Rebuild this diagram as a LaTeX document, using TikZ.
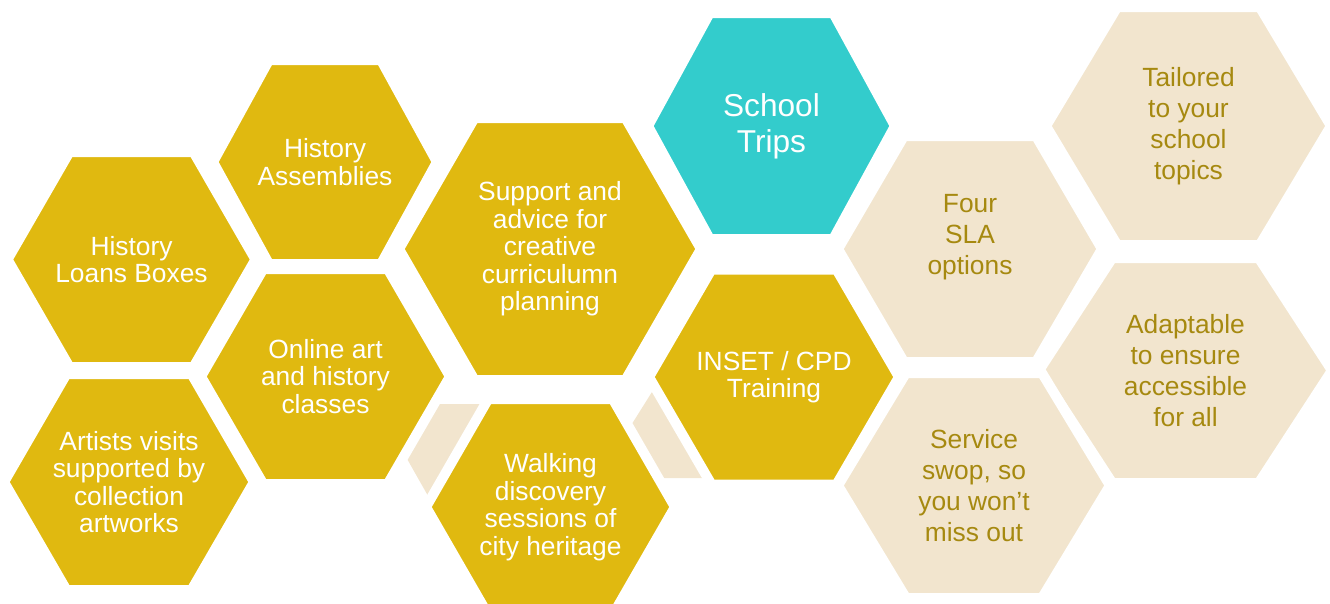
\documentclass[tikz,border=0pt]{standalone}
\usepackage{fontspec}
\setmainfont{Liberation Sans}
\usepackage{xcolor}
\definecolor{hexgold}{RGB}{224,185,16}
\definecolor{hexteal}{RGB}{51,204,204}
\definecolor{hexsand}{RGB}{242,229,206}
\definecolor{hexink}{RGB}{166,137,16}

% cell: name, centre x, centre y, half width, half height, fill, text style, text
\newcommand{\hexcell}[8]{%
  \filldraw[hexedge, fill=#6, shift={(#2,#3)}]
    ({-#4-6},0) -- ({-#4/2-3},{-#5-5}) -- ({#4/2+3},{-#5-5}) -- ({#4+6},0)
    -- ({#4/2+3},{#5+5}) -- ({-#4/2-3},{#5+5}) -- cycle;
  \node[#7] (#1) at (#2,#3) {#8};
}

\begin{document}
\begin{tikzpicture}[x=0.02cm, y=-0.02cm,
    hexedge/.style={draw=white, line width=0.2cm},
    goldtext/.style={text=white, align=center, font=\fontsize{15}{15.7}\selectfont},
    sandtext/.style={text=hexink, align=center, font=\fontsize{15}{17.6}\selectfont},
    tripstext/.style={text=white, align=center, font=\fontsize{18}{20.5}\selectfont}]
  \useasboundingbox (0,0) rectangle (1330,603);
  % half hidden sand cells
  \fill[hexsand] (406,457) -- (436,404) -- (496,404) -- (526,457) -- (496,510) -- (436,510) -- cycle;
  \fill[hexsand] (630,427) -- (662,376) -- (726,376) -- (758,427) -- (726,478) -- (662,478) -- cycle;
  \hexcell{loans}{131.5}{259.5}{118}{102.5}{hexgold}{goldtext}{History\\Loans Boxes}
  \hexcell{artists}{129}{482}{119}{103}{hexgold}{goldtext}{Artists visits\\supported by\\collection\\artworks}
  \hexcell{assemblies}{325}{162}{106}{97}{hexgold}{goldtext}{History\\Assemblies}
  \hexcell{online}{325.5}{376.5}{118.5}{102.5}{hexgold}{goldtext}{Online art\\and history\\classes}
  \hexcell{support}{550}{249}{145}{126}{hexgold}{goldtext}{Support and\\advice for\\creative\\curriculumn\\planning}
  \hexcell{walking}{550.5}{507}{118.5}{103}{hexgold}{goldtext}{Walking\\discovery\\sessions of\\city heritage}
  \hexcell{inset}{774}{377}{119}{102.5}{hexgold}{goldtext}{INSET / CPD\\Training}
  \hexcell{trips}{771.5}{126}{117.5}{108}{hexteal}{tripstext}{School\\Trips}
  \hexcell{tailored}{1188.5}{126}{136.5}{114}{hexsand}{sandtext}{Tailored\\to your\\school\\topics}
  \hexcell{four}{970}{249}{126}{108}{hexsand}{sandtext, yshift=0.24cm}{Four\\SLA\\options}
  \hexcell{adaptable}{1185.5}{370.5}{140.5}{107.5}{hexsand}{sandtext}{Adaptable\\to ensure\\accessible\\for all}
  \hexcell{service}{974}{485.5}{130}{107.5}{hexsand}{sandtext}{Service\\swop, so\\you won’t\\miss out}
\end{tikzpicture}
\end{document}
